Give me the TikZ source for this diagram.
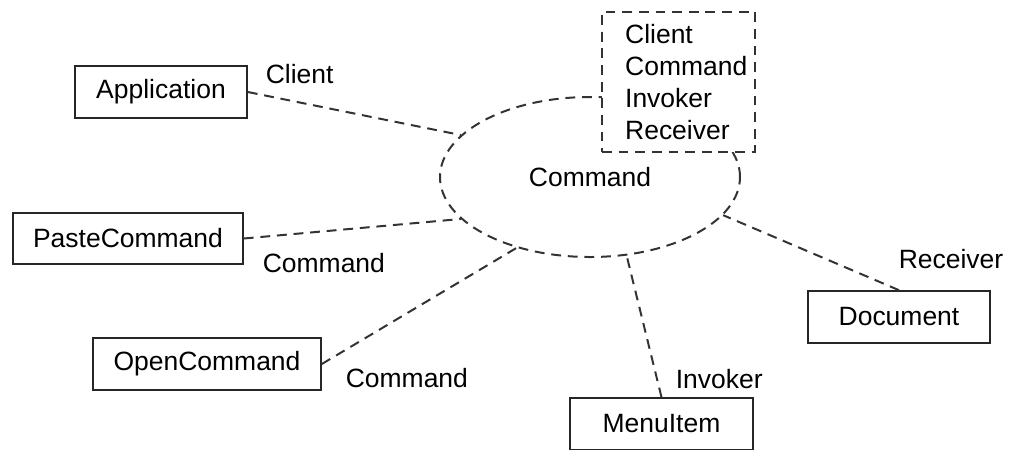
\documentclass[tikz,border=0pt]{standalone}
\usepackage{fontspec}
\setmainfont{Liberation Sans}
\usepackage{tikz}
\usetikzlibrary{shapes.geometric,positioning}

\begin{document}
\begin{tikzpicture}[
x=0.015cm, y=-0.015cm,
font=\fontsize{11.3}{13.6}\selectfont,
line width=0.7pt,
cls/.style={draw=black!85, rectangle, minimum height=0.78cm, inner sep=0pt},
dashline/.style={draw=black!80, line width=0.85pt, dash pattern=on 4.2pt off 2.9pt},
role/.style={anchor=base west, inner sep=0pt},
link/.style={dashline}
]
\useasboundingbox (0,0) rectangle (1011,449);

% Collaboration
\node[ellipse, dashline, minimum width=4.5cm, minimum height=2.4cm, inner sep=0pt] (cmd) at (590,177) {Command};

% Roles (dashed box)
\node[dashline, fill=white, minimum width=2.295cm, minimum height=2.1cm,
      text width=1.6cm, align=left, inner sep=0pt] (roles) at (678.5,82)
{Client\\Command\\Invoker\\Receiver};

% Classes
\node[cls, minimum width=2.58cm] (app) at (161,92) {Application};
\node[cls, minimum width=3.45cm, minimum height=0.765cm] (paste) at (128,238.5) {PasteCommand};
\node[cls, minimum width=3.42cm] (open) at (207,364) {OpenCommand};
\node[cls, minimum width=2.745cm] (menu) at (661.5,424) {MenuItem};
\node[cls, minimum width=2.73cm] (doc) at (899,317) {Document};

% Connections
\draw[link] (app.east) -- (cmd.162);
\draw[link] (paste.east) -- (cmd.198);
\draw[link] (open.east) -- (cmd.224);
\draw[link] (menu.north) -- (cmd.295);
\draw[link] (doc.north) -- (cmd.344);

% Role names
\node[role] (lclient) at (265,83) {Client};
\node[role] (lpaste) at (262,272) {Command};
\node[role] (lopen) at (345,387) {Command};
\node[role] (linvoker) at (675,388) {Invoker};
\node[role] (lreceiver) at (898,268) {Receiver};

\end{tikzpicture}
\end{document}
